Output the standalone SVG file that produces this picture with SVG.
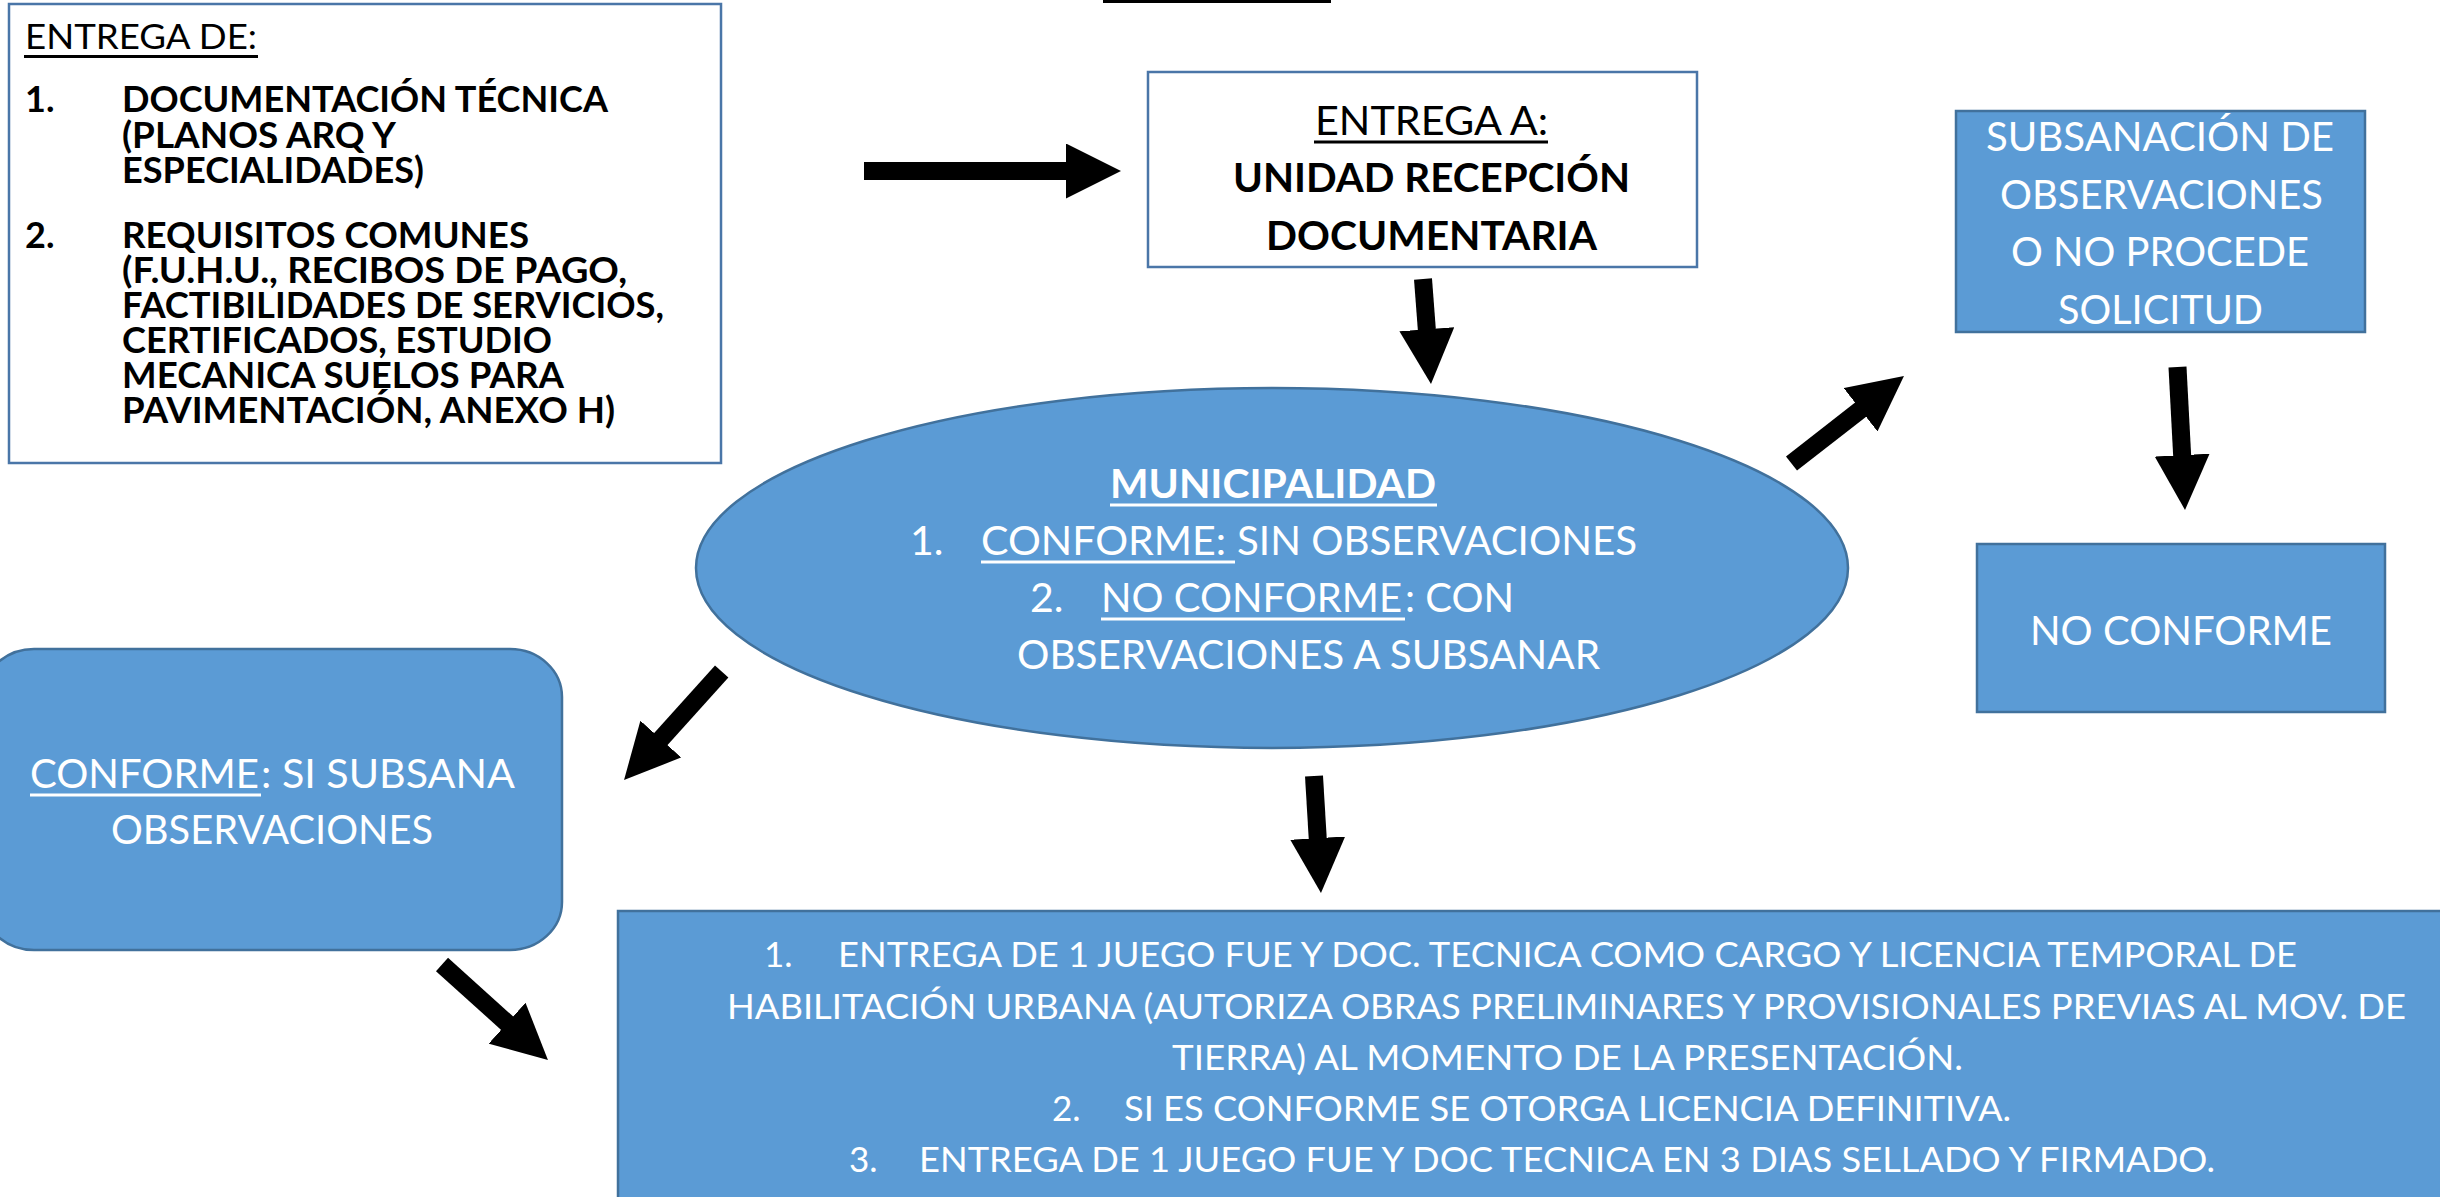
<svg xmlns="http://www.w3.org/2000/svg" width="2440" height="1197" viewBox="0 0 2440 1197">
<defs>
<style>
.bw{fill:#ffffff;stroke:#4A76A8;stroke-width:2.5}
.bb{fill:#5B9BD5;stroke:#41719C;stroke-width:2.5}
text{font-family:Lato,'Liberation Sans',sans-serif}
.k{fill:#000000}
.w{fill:#ffffff}
.b{font-weight:bold}
.s35{font-size:35px}
.s36{font-size:36px}
.s41{font-size:41px}
.ulk{stroke:#000000;stroke-width:3}
.ulw{stroke:#ffffff;stroke-width:3}
.conn line{stroke:#000000;stroke-width:18;fill:none;marker-end:url(#ah)}
</style>
<marker id="ah" markerUnits="userSpaceOnUse" markerWidth="55" markerHeight="55" viewBox="0 0 55 55" refX="5" refY="27.5" orient="auto">
<path d="M0,0 L55,27.5 L0,55 Z" fill="#000000"/>
</marker>
</defs>
<rect width="2440" height="1197" fill="#ffffff"/>
<rect x="1103" y="0" width="228" height="3" fill="#000000"/>

<g id="entrega-de">
<rect class="bw" x="9" y="4" width="712" height="459"/>
<text class="k s35" x="25" y="49" textLength="232" lengthAdjust="spacingAndGlyphs">ENTREGA DE:</text>
<line class="ulk" x1="24" y1="56.5" x2="258" y2="56.5"/>
<text class="k b s36"><tspan x="25" y="112">1.</tspan><tspan x="122" y="112" textLength="486" lengthAdjust="spacingAndGlyphs">DOCUMENTACIÓN TÉCNICA</tspan><tspan x="122" y="148" textLength="274" lengthAdjust="spacingAndGlyphs">(PLANOS ARQ Y</tspan><tspan x="122" y="183" textLength="302" lengthAdjust="spacingAndGlyphs">ESPECIALIDADES)</tspan></text>
<text class="k b s36"><tspan x="25" y="248">2.</tspan><tspan x="122" y="248" textLength="407" lengthAdjust="spacingAndGlyphs">REQUISITOS COMUNES</tspan><tspan x="122" y="283" textLength="505" lengthAdjust="spacingAndGlyphs">(F.U.H.U., RECIBOS DE PAGO,</tspan><tspan x="122" y="318" textLength="542" lengthAdjust="spacingAndGlyphs">FACTIBILIDADES DE SERVICIOS,</tspan><tspan x="122" y="353" textLength="430" lengthAdjust="spacingAndGlyphs">CERTIFICADOS, ESTUDIO</tspan><tspan x="122" y="388" textLength="442" lengthAdjust="spacingAndGlyphs">MECANICA SUELOS PARA</tspan><tspan x="122" y="423" textLength="493" lengthAdjust="spacingAndGlyphs">PAVIMENTACIÓN, ANEXO H)</tspan></text>
</g>

<g id="entrega-a">
<rect class="bw" x="1148" y="72" width="549" height="195"/>
<text class="k s41" x="1315" y="135" textLength="233" lengthAdjust="spacingAndGlyphs">ENTREGA A:</text>
<line class="ulk" x1="1314" y1="142" x2="1548" y2="142"/>
<text class="k b s41" x="1233" y="192" textLength="397" lengthAdjust="spacingAndGlyphs">UNIDAD RECEPCIÓN</text>
<text class="k b s41" x="1266" y="250" textLength="331" lengthAdjust="spacingAndGlyphs">DOCUMENTARIA</text>
</g>

<g id="municipalidad">
<ellipse class="bb" cx="1272" cy="568" rx="576" ry="180"/>
<text class="w b s41" x="1110" y="498" textLength="326" lengthAdjust="spacingAndGlyphs">MUNICIPALIDAD</text>
<line class="ulw" x1="1110" y1="505" x2="1437" y2="505"/>
<text class="w s41" x="910" y="555">1.</text>
<text class="w s41" x="981" y="555" textLength="245" lengthAdjust="spacingAndGlyphs">CONFORME:</text>
<line class="ulw" x1="981" y1="562" x2="1235" y2="562"/>
<text class="w s41" x="1237" y="555" textLength="400" lengthAdjust="spacingAndGlyphs">SIN OBSERVACIONES</text>
<text class="w s41" x="1030" y="612">2.</text>
<text class="w s41" x="1101" y="612" textLength="301" lengthAdjust="spacingAndGlyphs">NO CONFORME</text>
<line class="ulw" x1="1101" y1="619" x2="1405" y2="619"/>
<text class="w s41" x="1405" y="612" textLength="109" lengthAdjust="spacingAndGlyphs">: CON</text>
<text class="w s41" x="1017" y="669" textLength="583" lengthAdjust="spacingAndGlyphs">OBSERVACIONES A SUBSANAR</text>
</g>

<g id="subsanacion">
<rect class="bb" x="1956" y="111" width="409" height="221"/>
<text class="w s41" x="1986" y="151" textLength="348" lengthAdjust="spacingAndGlyphs">SUBSANACIÓN DE</text>
<text class="w s41" x="2000" y="209" textLength="323" lengthAdjust="spacingAndGlyphs">OBSERVACIONES</text>
<text class="w s41" x="2011" y="266" textLength="298" lengthAdjust="spacingAndGlyphs">O NO PROCEDE</text>
<text class="w s41" x="2058" y="324" textLength="205" lengthAdjust="spacingAndGlyphs">SOLICITUD</text>
</g>

<g id="no-conforme">
<rect class="bb" x="1977" y="544" width="408" height="168"/>
<text class="w s41" x="2030" y="645" textLength="302" lengthAdjust="spacingAndGlyphs">NO CONFORME</text>
</g>

<g id="conforme-subsana">
<rect class="bb" x="-18" y="649" width="580" height="301" rx="52" ry="48"/>
<text class="w s41" x="30" y="788" textLength="229" lengthAdjust="spacingAndGlyphs">CONFORME</text>
<line class="ulw" x1="30" y1="795" x2="261" y2="795"/>
<text class="w s41" x="261" y="788" textLength="254" lengthAdjust="spacingAndGlyphs">: SI SUBSANA</text>
<text class="w s41" x="111" y="844" textLength="322" lengthAdjust="spacingAndGlyphs">OBSERVACIONES</text>
</g>

<g id="resultado">
<rect class="bb" x="618" y="911" width="1900" height="400"/>
<text class="w s35" x="764" y="967">1.</text>
<text class="w s35" x="838" y="967" textLength="1459" lengthAdjust="spacingAndGlyphs">ENTREGA DE 1 JUEGO FUE Y DOC. TECNICA COMO CARGO Y LICENCIA TEMPORAL DE</text>
<text class="w s35" x="727" y="1019" textLength="1679" lengthAdjust="spacingAndGlyphs">HABILITACIÓN URBANA (AUTORIZA OBRAS PRELIMINARES Y PROVISIONALES PREVIAS AL MOV. DE</text>
<text class="w s35" x="1172" y="1070" textLength="791" lengthAdjust="spacingAndGlyphs">TIERRA) AL MOMENTO DE LA PRESENTACIÓN.</text>
<text class="w s35" x="1052" y="1121">2.</text>
<text class="w s35" x="1124" y="1121" textLength="887" lengthAdjust="spacingAndGlyphs">SI ES CONFORME SE OTORGA LICENCIA DEFINITIVA.</text>
<text class="w s35" x="849" y="1172">3.</text>
<text class="w s35" x="919" y="1172" textLength="1296" lengthAdjust="spacingAndGlyphs">ENTREGA DE 1 JUEGO FUE Y DOC TECNICA EN 3 DIAS SELLADO Y FIRMADO.</text>
</g>

<g id="connectors" class="conn">
<line x1="864" y1="171" x2="1071" y2="171"/>
<line x1="1423" y1="279" x2="1427.2" y2="334.2"/>
<line x1="1791.5" y1="463.5" x2="1864.5" y2="406.7"/>
<line x1="721.7" y1="671.5" x2="657.5" y2="742.8"/>
<line x1="442" y1="964.5" x2="510.8" y2="1026.5"/>
<line x1="1314" y1="776" x2="1318" y2="843.1"/>
<line x1="2177.5" y1="367" x2="2182.4" y2="460.1"/>
</g>
</svg>
